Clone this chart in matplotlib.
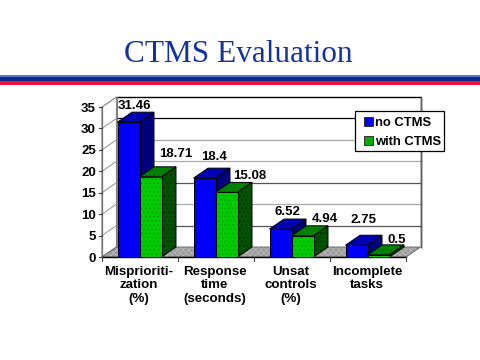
import matplotlib
matplotlib.use("Agg")
import matplotlib.pyplot as plt
from matplotlib.patches import Polygon, Rectangle

categories = ["Misprioriti-\nzation\n(%)", "Response\ntime\n(seconds)", "Unsat\ncontrols\n(%)", "Incomplete\ntasks"]
no_ctms = [31.46, 18.4, 6.52, 2.75]
with_ctms = [18.71, 15.08, 4.94, 0.5]
value_labels_no = ["31.46", "18.4", "6.52", "2.75"]
value_labels_with = ["18.71", "15.08", "4.94", "0.5"]
yticks = [0, 5, 10, 15, 20, 25, 30, 35]
series_names = ["no CTMS", "with CTMS"]

W, H = 480, 360
X0, Y0 = 102, 257          # front-left origin, px
CAT_W = 76                 # px per category
UNIT = 150 / 35            # px per value unit
DX, DY = 14.5, 10          # oblique depth, px
BAR_W = 22 / 76            # bar width in category units
dx = DX / CAT_W
dy = DY / UNIT

plt.rcParams["font.family"] = ["Liberation Sans", "DejaVu Sans"]
plt.rcParams["hatch.linewidth"] = 0.6

fig = plt.figure(figsize=(4.8, 3.6), dpi=100, facecolor="white")

# header
fig.text(238.5 / W, 1 - 62 / H, "CTMS Evaluation", family=["Liberation Serif", "DejaVu Serif"],
         fontsize=22.5, color="#12329c", ha="center", va="baseline")
fig.add_artist(Rectangle((0, 1 - 81 / H), 1, 6 / H, transform=fig.transFigure, fc="#0c2a8c", ec="none"))
fig.add_artist(Rectangle((0, 1 - 76.5 / H), 1, 1.2 / H, transform=fig.transFigure, fc="#5a78c8", ec="none"))
fig.add_artist(Rectangle((0, 1 - 85 / H), 1, 4 / H, transform=fig.transFigure, fc="#f0103c", ec="none"))

ax = fig.add_axes([X0 / W, 1 - Y0 / H, 318 / W, 160 / H])
ax.set_xlim(0, 318 / CAT_W)
ax.set_ylim(0, 160 / UNIT)
ax.axis("off")


def poly(pts, fc, ec="black", lw=0.7, z=2, hatch=None, hc=None):
    if hatch:
        ax.add_patch(Polygon(pts, closed=True, fc=fc, ec=hc, hatch=hatch, lw=0, zorder=z, clip_on=False))
        fc = "none"
    ax.add_patch(Polygon(pts, closed=True, fc=fc, ec=ec, lw=lw, zorder=z, clip_on=False, joinstyle="miter"))


n = len(categories)
top = yticks[-1]

# walls and floor
poly([(0, 0), (dx, dy), (dx, top + dy), (0, top)], "white", ec="#808080", lw=0.8, z=1)
poly([(n, 0), (0, 0), (dx, dy), (n + dx, dy)], "#9a9a9a", ec="#606060", lw=0.6, z=1.2,
     hatch="xxxxxx", hc="#b8b8b8")
for v in yticks[1:-1]:
    c = "#000000" if v in (30,) else ("#555555" if v in (5, 15) else "#aaaaaa")
    ax.plot([dx, n + dx], [v + dy, v + dy], color=c, lw=0.9, zorder=1.1, clip_on=False)
    ax.plot([0, dx], [v, v + dy], color="#909090", lw=0.7, zorder=1.1, clip_on=False)
ax.plot([dx, n + dx, n + dx], [top + dy, top + dy, dy], color="black", lw=1.0, zorder=1.1, clip_on=False)
ax.plot([n + dx, n + dx], [top + dy, dy], color="#606060", lw=1.0, zorder=1.15, clip_on=False)
ax.plot([dx, dx], [dy, top + dy], color="#808080", lw=0.8, zorder=1.1, clip_on=False)

# axes lines and ticks
ax.plot([0, 0], [0, top], color="#707070", lw=0.9, zorder=1.3, clip_on=False)
ax.plot([0, n], [0, 0], color="black", lw=1.0, zorder=1.3, clip_on=False)
tick_x = 3.5 / CAT_W
tick_y = 3.5 / UNIT
for v in yticks:
    ax.plot([-tick_x, 0], [v, v], color="#404040", lw=0.8, clip_on=False)
    ax.text(-6 / CAT_W, v, str(v), ha="right", va="center_baseline", fontsize=9.5, fontweight="bold", clip_on=False)
for i in range(n + 1):
    ax.plot([i, i], [0, -tick_y], color="#404040", lw=0.8, clip_on=False)
for i, label in enumerate(categories):
    ax.text(i + 0.5 - 1 / CAT_W, -9 / UNIT, label, ha="center", va="top", fontsize=9.6, fontweight="bold",
            linespacing=1.14, clip_on=False)


def bar3d(x, v, front, front_h, topc, side, z):
    x1 = x + BAR_W
    poly([(x, v), (x + dx, v + dy), (x1 + dx, v + dy), (x1, v)], topc, z=z, hatch=front_h and "....", hc="#006a00" if front_h else None)
    poly([(x1, 0), (x1 + dx, dy), (x1 + dx, v + dy), (x1, v)], side, z=z, hatch=front_h and "....", hc="#002c00" if front_h else None)
    poly([(x, 0), (x, v), (x1, v), (x1, 0)], front, z=z, hatch=front_h and "....", hc="#009c00" if front_h else None)


for i in range(n):
    x_blue = i + 0.5 - BAR_W - 0.5 / CAT_W
    x_green = i + 0.5 - 0.5 / CAT_W
    z = 3 + i
    bar3d(x_blue, no_ctms[i], "#0000f4", False, "#0000b4", "#00007c", z)
    bar3d(x_green, with_ctms[i], "#00cc00", True, "#008400", "#005400", z + 0.5)

# value labels: horizontal nudge from each bar's depth-shifted centre, px
nudge_no = [-2, 2, -1, -1]
nudge_with = [18, 15, 15, 11]
raise_no = [3, 8, 4, 12]
raise_with = [10, 3, 4, 2]
for i in range(n):
    xb = i + 0.5 - BAR_W / 2 + dx / 2
    xg = i + 0.5 + BAR_W / 2 + dx / 2
    ax.annotate(value_labels_no[i], (xb, no_ctms[i] + dy), xytext=(nudge_no[i], raise_no[i]),
                textcoords="offset pixels", ha="center", va="baseline", fontsize=9.5, fontweight="bold",
                zorder=20, annotation_clip=False)
    ax.annotate(value_labels_with[i], (xg, with_ctms[i] + dy), xytext=(nudge_with[i], raise_with[i]),
                textcoords="offset pixels", ha="center", va="baseline", fontsize=9.5, fontweight="bold",
                zorder=20, annotation_clip=False)

# legend: frame placed to the reference's box, entries from the library's legend
frame = Rectangle((355 / W, 1 - 151 / H), 88.5 / W, 40 / H, transform=fig.transFigure,
                  fc="white", ec="black", lw=0.9, zorder=29)
fig.add_artist(frame)
handles = [Rectangle((0, 0), 1, 1, fc="#0000f4", ec="#303030", lw=0.7),
           Rectangle((0, 0), 1, 1, fc="#00b000", ec="#303030", lw=0.7)]
leg = fig.legend(handles, series_names, loc="upper left", bbox_to_anchor=(364 / W, 1 - 117 / H),
                 borderaxespad=0, borderpad=0, frameon=False,
                 prop={"family": "Liberation Sans", "weight": "bold", "size": 9.4},
                 handlelength=0.68, handleheight=0.7, handletextpad=0.2, labelspacing=0.55)
leg.set_zorder(30)

fig.savefig("out.png", dpi=100)
